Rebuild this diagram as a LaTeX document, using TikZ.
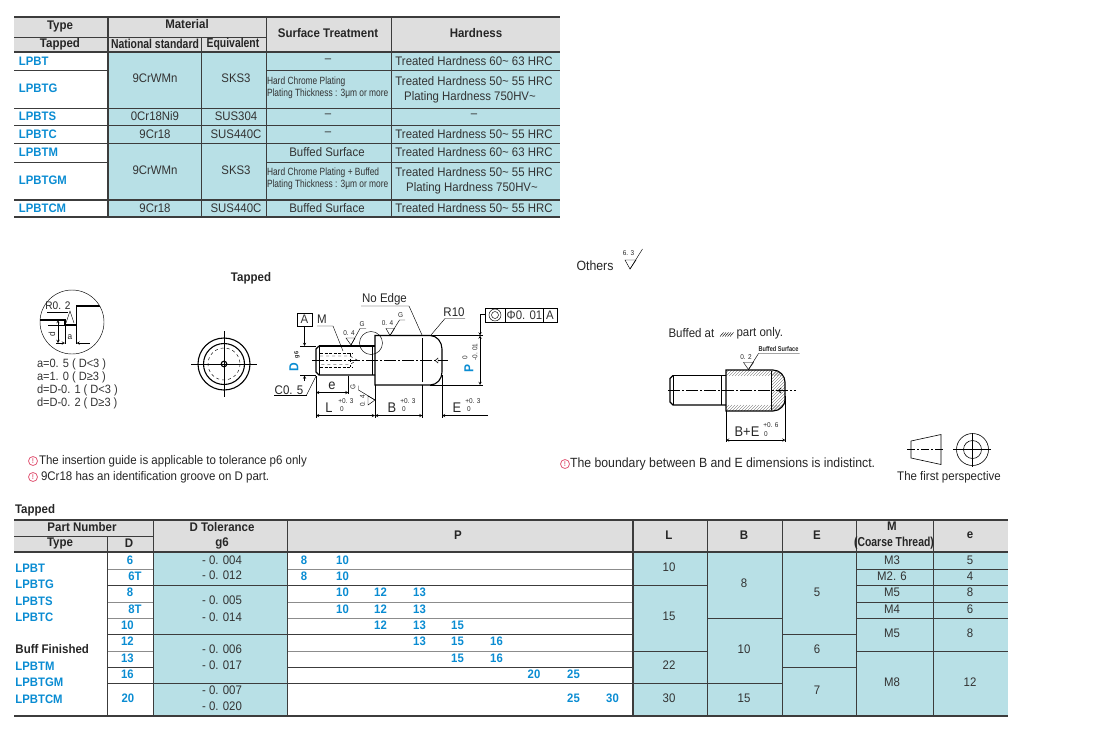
\documentclass[tikz,border=0pt]{standalone}
\usepackage{fontspec}
\setmainfont[FakeStretch=0.92]{Liberation Sans}
\newfontfamily\narrowfont[FakeStretch=0.8]{Liberation Sans}
\definecolor{cellteal}{RGB}{184,224,230}
\definecolor{cellgray}{RGB}{222,222,222}
\definecolor{lineink}{RGB}{60,60,60}
\definecolor{lpblue}{RGB}{10,140,210}
\definecolor{notepink}{RGB}{225,90,120}
\tikzset{
  inner sep=0pt, outer sep=0pt,
  txt/.style={font=\fontsize{12.4}{13}\selectfont, text=black!80},
  note/.style={font=\fontsize{12.5}{13}\selectfont, text=black!85},
  head/.style={font=\fontsize{12.5}{13}\selectfont\bfseries, text=black!85},
  narrowhead/.style={font=\fontsize{13}{13}\selectfont\narrowfont\bfseries, text=black!85},
  part/.style={font=\fontsize{12.3}{13}\selectfont\bfseries, text=lpblue},
  smalltxt/.style={font=\fontsize{10.5}{11}\selectfont\narrowfont, text=black!80, anchor=west},
  tol/.style={font=\fontsize{7}{8}\selectfont, text=black!85},
  dimtxt/.style={font=\fontsize{14}{15}\selectfont, text=black!85},
  grid/.style={lineink, line width=0.7pt},
  soft/.style={black!45, line width=1pt},
  heavy/.style={lineink, line width=1.8pt},
  part line/.style={black, line width=1.1pt},
  thin line/.style={black, line width=0.45pt},
  hatch line/.style={black!70, line width=0.3pt},
  centre line/.style={black, line width=0.45pt, dash pattern=on 12pt off 2pt on 2pt off 2pt},
  dim/.style={black, line width=0.45pt, <->, >=stealth},
  noteicon/.style={circle, draw=notepink, line width=0.8pt, minimum size=9pt, text=notepink,
    font=\fontsize{7}{7}\selectfont\bfseries},
}
\begin{document}
\begin{tikzpicture}[x=1pt,y=-1pt]
\useasboundingbox (0,0) rectangle (1100,737);
% first table
\fill[cellgray] (14,17) rectangle (560,52);
\fill[cellteal] (108,52) rectangle (560,217);
\foreach \ya/\yb/\xa/\xb in {37/37/14/266, 70/70/14/108, 70/70/266/560, 108/108/14/560, 125/125/14/560,
    143/143/14/560, 162/162/14/108, 162/162/266/560}
  \draw[grid] (\xa,\ya) -- (\xb,\yb);
\foreach \y in {17,52,200,217}
  \draw[heavy] (14,\y) -- (560,\y);
\draw[heavy] (108,17) -- (108,217);
\draw[grid] (201,37) -- (201,217);
\draw[grid] (266,17) -- (266,217);
\draw[grid] (391,17) -- (391,217);
\foreach \x/\y/\t [count=\i] in {60/26/Type, 60/44/Tapped, 187/24/Material,
    328/33/Surface Treatment, 476/33/Hardness}
  \node[head] (firsthead\i) at (\x,\y) {\t};
\node[narrowhead] (nationalhead) at (155,44) {National standard};
\node[narrowhead] (equivalenthead) at (233,44) {Equivalent};
\foreach \y/\t [count=\i] in {61/LPBT, 88/LPBTG, 116/LPBTS, 134/LPBTC, 152/LPBTM, 180/LPBTGM, 208/LPBTCM}
  \node[part, anchor=west] (firstpart\i) at (19,\y) {\t};
\foreach \x/\y/\t [count=\i] in {155/78/9CrWMn, 236/78/SKS3, 155/116/0Cr18Ni9, 236/116/SUS304, 155/134/9Cr18,
    236/134/SUS440C, 155/170/9CrWMn, 236/170/SKS3, 155/208/9Cr18, 236/208/SUS440C,
    328/61/--, 328/116/--, 328/134/--, 327/152/Buffed Surface, 327/208/Buffed Surface,
    474/61/Treated Hardness  60\textasciitilde{} 63 HRC, 474/81/Treated Hardness  50\textasciitilde{} 55 HRC,
    470/97/Plating Hardness  750HV\textasciitilde, 474/116/--, 474/134/Treated Hardness  50\textasciitilde{} 55 HRC,
    474/152/Treated Hardness  60\textasciitilde{} 63 HRC, 474/172/Treated Hardness  50\textasciitilde{} 55 HRC,
    472/188/Plating Hardness   750HV\textasciitilde, 474/208/Treated Hardness  50\textasciitilde{} 55 HRC}
  \node[txt] (firstcell\i) at (\x,\y) {\t};
\foreach \y/\t [count=\i] in {82/Hard Chrome Plating, 94/Plating Thickness : 3μm or more,
    173/Hard Chrome Plating + Buffed, 185/Plating Thickness : 3μm or more}
  \node[smalltxt] (firstnote\i) at (267,\y) {\t};
% detail circle
\draw[thin line] (72,322) circle (32);
\begin{scope}
  \clip (72,322) circle (32);
  \draw[part line] (38,320) -- (65,320) -- (65,325) -- (76.5,325) -- (76.5,306) -- (106,306);
\end{scope}
\draw[thin line] (66,323) -- (70,311) -- (74,323);
\draw[thin line] (47,312) -- (68,312);
\draw[thin line] (65,325) -- (65,344);
\draw[thin line] (76.5,325) -- (76.5,344);
\draw[thin line] (48,325) -- (65,325);
\draw[dim] (58,320) -- (58,343);
\draw[thin line, <-, >=stealth] (65,343) -- (56,343);
\draw[thin line, <-, >=stealth] (76.5,343) -- (90,343);
\node[font=\fontsize{11}{12}\selectfont, text=black!85] (detailradius) at (58,306) {R0. 2};
\node[tol, font=\fontsize{9}{9}\selectfont] (detaila) at (70,337) {a};
\node[tol, font=\fontsize{9}{9}\selectfont, rotate=90] (detaild) at (52,334) {d};
\foreach \y/\t [count=\i] in {364/a=0. 5 ( D<3 ), 377/a=1. 0 ( D≥3 ), 390/d=D-0. 1 ( D<3 ), 403/d=D-0. 2 ( D≥3 )}
  \node[txt, anchor=west, font=\fontsize{12}{13}\selectfont] (detailnote\i) at (37,\y) {\t};
% front view
\node[head] (tappedtitle) at (251,278) {Tapped};
\draw[part line] (224,364) circle (26);
\draw[part line] (224,364) circle (20.5);
\draw[thin line, dashed] (224,364) circle (16);
\draw[part line] (224,364) circle (2.8);
\draw[thin line] (191,364) -- (257,364);
\draw[thin line] (224,331) -- (224,397);
% tapped pin
\draw[part line] (319,346) -- (316,349) -- (316,372) -- (319,375) -- (375,375);
\draw[part line] (319,346) -- (375,346);
\draw[part line] (319.5,346) -- (319.5,375);
\draw[thin line] (372,346) -- (372,375);
\draw[part line] (375,335.5) -- (430,335.5) .. controls (437,335.5) and (442,342) .. (442,349)
  -- (442,372) .. controls (442,379) and (437,385) .. (430,385) -- (375,385) -- cycle;
\draw[part line] (422.5,338) -- (422.5,382);
\draw[black, line width=0.9pt, dash pattern=on 3pt off 1.5pt] (320,353) -- (353,353);
\draw[black, line width=0.9pt, dash pattern=on 3pt off 1.5pt] (320,367.5) -- (353,367.5);
\draw[thin line, dashed] (320,356) -- (350,356) -- (357,360) -- (350,364.5) -- (320,364.5);
\draw[thin line, dashed] (350,353) -- (350,367);
\draw[centre line] (312,360.5) -- (448,360.5);
\draw[thin line] (371,343) circle (11.5);
\draw[thin line] (435,360.5) -- (438,358) -- (438,363) -- cycle;
% datum and diameter
\node[draw=black, line width=0.5pt, minimum width=15.5pt, minimum height=12.5pt, txt] (datumbox) at (304.5,319.5) {A};
\coordinate (threadtop) at (304.5,346);
\coordinate (threadbottom) at (304.5,375.5);
\draw[thin line, ->, >=stealth] (datumbox) -- (threadtop);
\draw[thin line] (300,346) -- (316,346);
\draw[thin line] (300,375.5) -- (316,375.5);
\draw[thin line, ->, >=stealth] (304.5,381) -- (threadbottom);
\node[part, rotate=90, font=\fontsize{13}{13}\selectfont\bfseries] (labelD) at (294,367) {D};
\node[tol, rotate=90, font=\fontsize{6}{6}\selectfont\bfseries] (labelgsix) at (297,355) {g6};
\node[dimtxt, font=\fontsize{12.5}{13}\selectfont] (labelM) at (322,319) {M};
\draw[thin line] (317,326) -- (333,326) -- (343,351);
% roughness marks
\draw[thin line] (346,338) -- (355,338) -- (351,345) -- cycle;
\draw[thin line] (351,345) -- (360,328.5) -- (366,328.5);
\node[tol] (markoneval) at (349,333) {0. 4};
\node[tol] (markonegrade) at (362,324) {G};
\draw[thin line] (386,328.5) -- (394.5,328.5) -- (390,335.5) -- cycle;
\draw[thin line] (390,335.5) -- (399.5,320) -- (405,320);
\node[tol] (marktwoval) at (387.5,323.5) {0. 4};
\node[tol] (marktwograde) at (400.5,315) {G};
\draw[thin line] (368,396) -- (368,405) -- (375,400) -- cycle;
\draw[thin line] (375,400) -- (358.5,390) -- (358.5,385.5);
\node[tol, rotate=90] (markthreeval) at (362.5,401) {0. 4};
\node[tol, rotate=90] (markthreegrade) at (353,387) {G};
% dimensions under the pin
\foreach \x/\ya in {316/376, 375/385, 422.5/385, 442/375}
  \draw[thin line] (\x,\ya) -- (\x,418);
\draw[thin line] (348.5,375.5) -- (348.5,394);
\draw[dim] (316,392.5) -- (348.5,392.5);
\node[dimtxt] (labele) at (332,386) {e};
\draw[dim] (316,415.5) -- (375,415.5);
\draw[dim] (375,415.5) -- (422.5,415.5);
\draw[thin line, ->, >=stealth] (488,415.5) -- (442,415.5);
\foreach \x/\t [count=\i] in {329/L, 392/B, 457/E}
  \node[dimtxt] (dimlabel\i) at (\x,408) {\t};
\foreach \x [count=\i] in {346,408,473}
  \node[tol] (dimplus\i) at (\x,401.5) {+0. 3};
\foreach \x [count=\i] in {342,404,469}
  \node[tol] (dimzero\i) at (\x,409) {0};
\draw[thin line] (306.5,395) -- (316,376);
\draw[thin line] (274,395) -- (306.5,395);
\node[dimtxt, font=\fontsize{12.5}{13}\selectfont] (labelchamfer) at (289,390) {C0. 5};
% plate diameter
\draw[thin line] (430,335.5) -- (483,335.5);
\draw[thin line] (430,385) -- (483,385);
\draw[dim] (480,335.5) -- (480,385);
\node[part, rotate=90, font=\fontsize{13}{13}\selectfont\bfseries] (labelP) at (469,369) {P};
\node[tol, rotate=90] (labelPzero) at (465,358) {0};
\node[tol, rotate=90] (labelPminus) at (475,352) {-0. 01};
% no edge and radius
\node[note] (noedge) at (384.5,299) {No Edge};
\draw[thin line] (361,306) -- (409,306) -- (422,335);
\node[note] (radiuslabel) at (454,312) {R10};
\draw[thin line] (465,318.5) -- (445,318.5) -- (431,335);
% frame
\draw[thin line] (485,308) rectangle (557,322);
\draw[thin line] (505,308) -- (505,322);
\draw[thin line] (543.5,308) -- (543.5,322);
\draw[thin line] (495,315) circle (6);
\draw[thin line] (495,315) circle (3.5);
\node[txt] (framevalue) at (524.5,315) {Φ0. 01};
\node[txt] (framedatum) at (550,315) {A};
\draw[thin line, ->, >=stealth] (485,314.5) -- (480,314.5) -- (480,335.5);
% others
\node[note, font=\fontsize{13.4}{14}\selectfont] (otherslabel) at (595,266) {Others};
\draw[thin line] (625,260) -- (636,260) -- (630,269) -- cycle;
\draw[thin line] (630,269) -- (642.5,249);
\node[tol] (othersvalue) at (628.5,253) {6. 3};
% buffed pin
\node[note, anchor=west] (buffedleft) at (668.5,333) {Buffed at};
\node[note, anchor=west] (buffedright) at (736.5,333) {part only.};
\foreach \x in {720,722.5,...,730}
  \draw[thin line] (\x,336.5) -- (\x+3.5,332.5);
\node[tol, font=\fontsize{7}{7}\selectfont\narrowfont\bfseries] (buffedsurface) at (778.5,349) {Buffed Surface};
\draw[thin line] (758.5,353.5) -- (799.5,353.5) (758.5,353.5) -- (748.5,369.5);
\draw[thin line] (743.5,362.5) -- (753.5,362.5) -- (748.5,369.5) -- cycle;
\node[tol] (buffedvalue) at (746,357.5) {0. 2};
\begin{scope}
  \clip (726,370) -- (773,370) .. controls (780,370) and (785,376) .. (785,382) -- (785,400)
    .. controls (785,405) and (780,411) .. (773,411) -- (726,411) -- cycle;
  \foreach \s in {0,3,...,90} {
    \draw[hatch line] (720+\s,376) -- (726+\s,370);
    \draw[hatch line] (720+\s,411) -- (726+\s,405);
  }
  \foreach \s in {0,3,...,60}
    \draw[hatch line] (772,376+\s) -- (785,363+\s);
\end{scope}
\draw[part line] (673,375.5) -- (670,378.5) -- (670,402) -- (673,405) -- (726,405);
\draw[part line] (673,375.5) -- (726,375.5);
\draw[thin line] (673,375.5) -- (673,405);
\draw[part line] (721.5,375.5) -- (721.5,405);
\draw[part line] (726,370) -- (773,370) .. controls (780,370) and (785,376) .. (785,382) -- (785,400)
  .. controls (785,405) and (780,411) .. (773,411) -- (726,411) -- cycle;
\draw[part line] (771.5,371) -- (771.5,410);
\draw[centre line] (668,390.5) -- (796,390.5);
\draw[thin line] (778,390.5) -- (781,388) -- (781,393) -- cycle;
\draw[thin line] (726,411) -- (726,442);
\draw[thin line] (785.5,396) -- (785.5,442);
\draw[dim] (726,440) -- (785.5,440);
\node[dimtxt] (buffeddim) at (747,432) {B+E};
\node[tol] (buffedplus) at (771,425.5) {+0. 6};
\node[tol] (buffedzero) at (766,434) {0};
% notes
\node[noteicon] (noteone) at (33,461) {!};
\node[note, anchor=west] (notetextone) at (39,461) {The insertion guide is applicable to tolerance p6 only};
\node[noteicon] (notetwo) at (33,477) {!};
\node[note, anchor=west] (notetexttwo) at (41,477) {9Cr18 has an identification groove on D part.};
\node[noteicon] (notethree) at (565,464) {!};
\node[note, anchor=west, font=\fontsize{13.35}{14}\selectfont] (notetextthree) at (570,464) {The boundary between B and E dimensions is indistinct.};
% projection symbol
\draw[thin line, line width=0.6pt] (911,441) -- (941,434.5) -- (941,464.5) -- (911,458) -- cycle;
\draw[centre line, dash pattern=on 8pt off 2pt on 2pt off 2pt] (907,449.5) -- (944,449.5);
\draw[thin line, line width=0.6pt] (972.5,449.5) circle (16);
\draw[thin line, line width=0.6pt] (972.5,449.5) circle (9);
\draw[thin line] (953,449.5) -- (991,449.5);
\draw[thin line] (972.5,433) -- (972.5,467);
\node[note] (projection) at (949,477.5) {The first perspective};
% second table
\node[head, anchor=west] (secondtitle) at (15,510) {Tapped};
\fill[cellgray] (14,520) rectangle (1008,552);
\fill[cellteal] (153,552) rectangle (287,716);
\fill[cellteal] (633,552) rectangle (1008,716);
\foreach \y in {569,602,618,651}
  \draw[soft] (107,\y) -- (153,\y) (287,\y) -- (633,\y);
\foreach \y in {585,634,667,683}
  \draw[grid] (107,\y) -- (153,\y) (287,\y) -- (633,\y);
\draw[grid] (153,585) -- (287,585) (153,634) -- (287,634) (153,683) -- (287,683);
\draw[grid] (14,536) -- (153,536);
\foreach \x/\ya/\xb in {633/585/707, 633/651/707, 633/683/707, 707/618/782, 707/683/782, 782/634/856, 782/667/856,
    856/569/1008, 856/585/1008, 856/602/1008, 856/618/1008, 856/651/1008}
  \draw[grid] (\x,\ya) -- (\xb,\ya);
\foreach \y in {520,552,716}
  \draw[heavy] (14,\y) -- (1008,\y);
\draw[grid] (107,536) -- (107,716);
\foreach \x in {153,287,707,782,856,933}
  \draw[grid] (\x,520) -- (\x,716);
\draw[heavy] (633,520) -- (633,716);
\foreach \x/\y/\t [count=\i] in {82/527/Part Number, 60/543/Type, 129/543/D, 222/527/D Tolerance, 222/543/g6, 458/535/P,
    669/535/L, 744/535/B, 817/535/E, 892/526/M, 970/535/e}
  \node[head] (secondhead\i) at (\x,\y) {\t};
\node[narrowhead] (threadhead) at (894,543) {(Coarse Thread)};
\foreach \y/\t [count=\i] in {568/LPBT, 584/LPBTG, 601/LPBTS, 617/LPBTC, 666/LPBTM, 682/LPBTGM, 699/LPBTCM}
  \node[part, anchor=west] (secondpart\i) at (15.5,\y) {\t};
\node[head, anchor=west] (bufffinished) at (15.5,649) {Buff Finished};
\foreach \x/\y/\t [count=\i] in {130/560/6, 135/576/6T, 130/592/8, 135/609/8T, 127.5/625/10, 127.5/641/12,
    127.5/658/13, 127.5/674/16, 128/698/20,
    304/560/8, 342.5/560/10, 304/576/8, 342.5/576/10, 342.5/592/10, 380.5/592/12, 419.5/592/13, 342.5/609/10,
    380.5/609/12, 419.5/609/13, 380.5/625/12, 419.5/625/13, 457.5/625/15, 419.5/641/13, 457.5/641/15,
    496.5/641/16, 457.5/658/15, 496.5/658/16, 534/674/20, 573.5/674/25, 573.5/698/25, 612.5/698/30}
  \node[part] (size\i) at (\x,\y) {\t};
\foreach \y/\t [count=\i] in {560/004, 575/012, 600/005, 617/014, 649/006, 665/017, 690/007, 706/020}
  \node[txt] (toler\i) at (222,\y) {- 0. \t};
\foreach \x/\y/\t [count=\i] in {669/567/10, 669/616/15, 669/665/22, 669/698/30, 744/583/8, 744/649/10, 744/698/15,
    817/592/5, 817/649/6, 817/690/7, 892/560/M3, 892/576/M2. 6, 892/592/M5, 892/609/M4, 892/633/M5, 892/682/M8,
    970/560/5, 970/576/4, 970/592/8, 970/609/6, 970/633/8, 970/682/12}
  \node[txt] (secondcell\i) at (\x,\y) {\t};
\end{tikzpicture}
\end{document}
